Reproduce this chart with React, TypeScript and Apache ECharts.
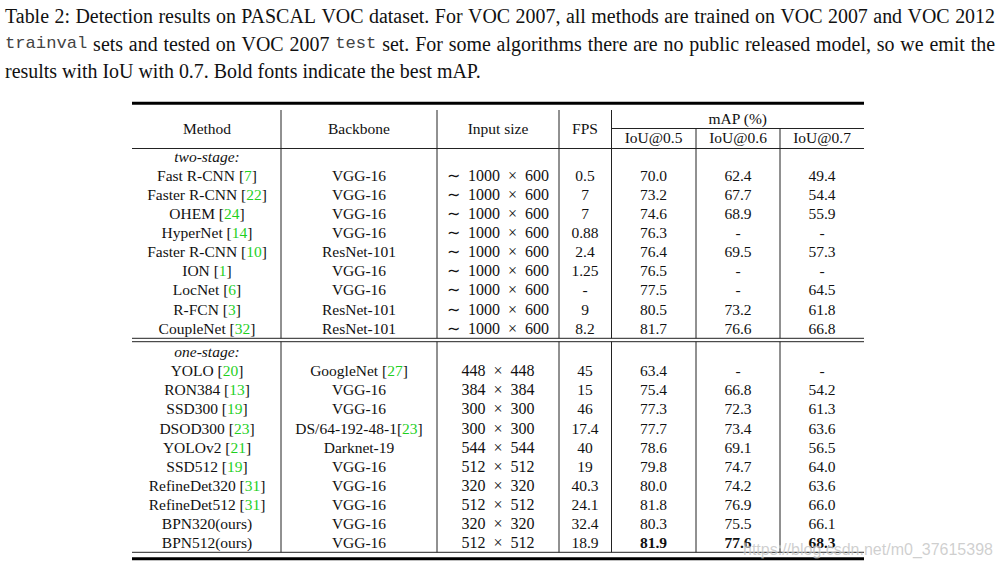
import React, { useEffect, useRef } from "react";
import * as echarts from "echarts";

// ---------- text / data ----------
const captionLine1 =
  "Table 2: Detection results on PASCAL VOC dataset. For VOC 2007, all methods are trained on VOC 2007 and VOC 2012";
const captionLine2: [string, boolean][] = [
  ["trainval", true],
  ["sets and tested on VOC 2007", false],
  ["test", true],
  ["set. For some algorithms there are no public released model, so we emit the", false],
];
const captionLine3 = "results with IoU with 0.7. Bold fonts indicate the best mAP.";

const headers = ["Method", "Backbone", "Input size", "FPS"];
const mapHeader = "mAP (%)";
const iouHeaders = ["IoU@0.5", "IoU@0.6", "IoU@0.7"];
const groupLabels = ["two-stage:", "one-stage:"];

// two-stage
const twoMethods = ["Fast R-CNN", "Faster R-CNN", "OHEM", "HyperNet", "Faster R-CNN", "ION", "LocNet", "R-FCN", "CoupleNet"];
const twoRefs = ["7", "22", "24", "14", "10", "1", "6", "3", "32"];
const twoBackbones = ["VGG-16", "VGG-16", "VGG-16", "VGG-16", "ResNet-101", "VGG-16", "VGG-16", "ResNet-101", "ResNet-101"];
const twoBackboneRefs = ["", "", "", "", "", "", "", "", ""];
const twoInputs = ["∼ 1000 × 600", "∼ 1000 × 600", "∼ 1000 × 600", "∼ 1000 × 600", "∼ 1000 × 600", "∼ 1000 × 600", "∼ 1000 × 600", "∼ 1000 × 600", "∼ 1000 × 600"];
const twoFps: (number | null)[] = [0.5, 7, 7, 0.88, 2.4, 1.25, null, 9, 8.2];
const twoMap05: (number | null)[] = [70.0, 73.2, 74.6, 76.3, 76.4, 76.5, 77.5, 80.5, 81.7];
const twoMap06: (number | null)[] = [62.4, 67.7, 68.9, null, 69.5, null, null, 73.2, 76.6];
const twoMap07: (number | null)[] = [49.4, 54.4, 55.9, null, 57.3, null, 64.5, 61.8, 66.8];

// one-stage
const oneMethods = ["YOLO", "RON384", "SSD300", "DSOD300", "YOLOv2", "SSD512", "RefineDet320", "RefineDet512", "BPN320(ours)", "BPN512(ours)"];
const oneRefs = ["20", "13", "19", "23", "21", "19", "31", "31", "", ""];
const oneBackbones = ["GoogleNet", "VGG-16", "VGG-16", "DS/64-192-48-1", "Darknet-19", "VGG-16", "VGG-16", "VGG-16", "VGG-16", "VGG-16"];
const oneBackboneRefs = ["27", "", "", "23", "", "", "", "", "", ""];
const oneInputs = ["448 × 448", "384 × 384", "300 × 300", "300 × 300", "544 × 544", "512 × 512", "320 × 320", "512 × 512", "320 × 320", "512 × 512"];
const oneFps: (number | null)[] = [45, 15, 46, 17.4, 40, 19, 40.3, 24.1, 32.4, 18.9];
const oneMap05: (number | null)[] = [63.4, 75.4, 77.3, 77.7, 78.6, 79.8, 80.0, 81.8, 80.3, 81.9];
const oneMap06: (number | null)[] = [null, 66.8, 72.3, 73.4, 69.1, 74.7, 74.2, 76.9, 75.5, 77.6];
const oneMap07: (number | null)[] = [null, 54.2, 61.3, 63.6, 56.5, 64.0, 63.6, 66.0, 66.1, 68.3];

const watermark = "https://blog.csdn.net/m0_37615398";

// ---------- layout ----------
const SERIF = '"Liberation Serif", "Times New Roman", serif';
const MONO = '"Liberation Mono", "DejaVu Sans Mono", monospace';
const SANS = '"Liberation Sans", Arial, sans-serif';
const GREEN = "#1fd01f";
const INK = "#111";
const RULE = "#222";

const X_LEFT = 132;
const X_RIGHT = 864;
const COL_BOUNDS = [281, 437, 559, 611.5, 696, 780];
const COL_CENTERS = [207, 359, 498, 585, 653.5, 738, 822];
const ROW_STEP = 19.05;
const GROUP_Y = [156.6, 351.8];
const TABLE_FS = 15.5;

function fmtNum(v: number | null, d?: number) {
  if (v === null || v === undefined) return "-";
  return d === undefined ? String(v) : v.toFixed(d);
}

// math-style spacing around ∼ and ×
function mathSpacing(s: string) {
  return s.replace(/ /g, "\u2002");
}

function refText(name: string, ref: string, sep: string) {
  if (!ref) return `{t|${name}}`;
  return `{t|${name}${sep}[}{g|${ref}}{t|]}`;
}

const richBase = {
  t: { fontSize: TABLE_FS, fontFamily: SERIF, fill: INK },
  g: { fontSize: TABLE_FS, fontFamily: SERIF, fill: GREEN },
};

function txt(x: number, y: number, text: string, opts: any = {}) {
  const align = opts.align || "center";
  return {
    type: "text",
    x,
    y,
    silent: true,
    style: {
      text,
      fontSize: opts.fontSize || TABLE_FS,
      fontFamily: opts.fontFamily || SERIF,
      fontWeight: opts.fontWeight || "normal",
      fontStyle: opts.fontStyle || "normal",
      fill: opts.fill || INK,
      align,
      textAlign: align,
      verticalAlign: "middle",
      textVerticalAlign: "middle",
      rich: opts.rich,
      stroke: opts.stroke,
      lineWidth: opts.lineWidth,
    },
  };
}

function hline(x1: number, x2: number, y: number, w = 1, c = RULE) {
  return { type: "line", silent: true, shape: { x1, y1: y, x2, y2: y }, style: { stroke: c, lineWidth: w } };
}
function vline(x: number, y1: number, y2: number, w = 1, c = RULE) {
  return { type: "line", silent: true, shape: { x1: x, y1, x2: x, y2 }, style: { stroke: c, lineWidth: w } };
}

function buildGraphics() {
  const els: any[] = [];
  const canvas = document.createElement("canvas");
  const ctx = canvas.getContext("2d")!;
  const measure = (t: string, font: string) => {
    ctx.font = font;
    return ctx.measureText(t).width;
  };

  // ---- caption ----
  const capLeft = 5;
  const capRight = 995;
  const base = measure(captionLine3, `100px ${SERIF}`);
  const capFs = Math.max(16, Math.min(21, (100 * (481 - capLeft)) / base));
  const monoFs = capFs * 0.86;
  const serifFont = `${capFs}px ${SERIF}`;
  const monoFont = `${monoFs}px ${MONO}`;
  const capY = [16, 43.5, 70.5];

  const justify = (tokens: { w: string; mono: boolean }[], y: number) => {
    const widths = tokens.map((t) => measure(t.w, t.mono ? monoFont : serifFont));
    const total = widths.reduce((a, b) => a + b, 0);
    const gap = (capRight - capLeft - total) / (tokens.length - 1);
    let x = capLeft;
    tokens.forEach((t, i) => {
      els.push(
        txt(x, y, t.w, {
          align: "left",
          fontSize: t.mono ? monoFs : capFs,
          fontFamily: t.mono ? MONO : SERIF,
          fill: t.mono ? "#444" : INK,
        })
      );
      x += widths[i] + gap;
    });
  };
  justify(captionLine1.split(" ").map((w) => ({ w, mono: false })), capY[0]);
  const l2: { w: string; mono: boolean }[] = [];
  captionLine2.forEach(([s, mono]) => s.split(" ").forEach((w) => l2.push({ w, mono })));
  justify(l2, capY[1]);
  els.push(txt(capLeft, capY[2], captionLine3, { align: "left", fontSize: capFs }));

  // ---- rules ----
  const topY = 103.3;
  const subY = 128.5;
  const headBottom = 148.5;
  const dbl1 = 338.3;
  const dbl2 = 341.7;
  const botThin = 552.3;
  const botThick = 558.7;
  els.push(hline(X_LEFT, X_RIGHT, topY, 3, "#000"));
  els.push(hline(COL_BOUNDS[3], X_RIGHT, subY));
  els.push(hline(X_LEFT, X_RIGHT, headBottom));
  els.push(hline(X_LEFT, X_RIGHT, dbl1));
  els.push(hline(X_LEFT, X_RIGHT, dbl2));
  els.push(hline(X_LEFT, X_RIGHT, botThin));
  els.push(hline(X_LEFT, X_RIGHT, botThick, 3, "#000"));
  COL_BOUNDS.forEach((x, i) => {
    const start = i >= 4 ? subY : 110;
    els.push(vline(x, start, dbl1));
    els.push(vline(x, dbl2, botThin));
  });

  // ---- header ----
  const headY = 128;
  headers.forEach((h, i) => els.push(txt(COL_CENTERS[i], headY, h)));
  els.push(txt((COL_BOUNDS[3] + X_RIGHT) / 2, 118.3, mapHeader));
  iouHeaders.forEach((h, i) => els.push(txt(COL_CENTERS[4 + i], 137.8, h)));

  // ---- body ----
  const allMaps = [
    [...twoMap05, ...oneMap05],
    [...twoMap06, ...oneMap06],
    [...twoMap07, ...oneMap07],
  ];
  const best = allMaps.map((col) => Math.max(...(col.filter((v) => v !== null) as number[])));

  const groups = [
    { methods: twoMethods, refs: twoRefs, bbs: twoBackbones, bbRefs: twoBackboneRefs, inputs: twoInputs, fps: twoFps, m: [twoMap05, twoMap06, twoMap07] },
    { methods: oneMethods, refs: oneRefs, bbs: oneBackbones, bbRefs: oneBackboneRefs, inputs: oneInputs, fps: oneFps, m: [oneMap05, oneMap06, oneMap07] },
  ];
  groups.forEach((g, gi) => {
    els.push(txt(COL_CENTERS[0], GROUP_Y[gi], groupLabels[gi], { fontStyle: "italic" }));
    g.methods.forEach((name, i) => {
      const y = GROUP_Y[gi] + (i + 1) * ROW_STEP;
      els.push(txt(COL_CENTERS[0], y, refText(name, g.refs[i], " "), { rich: richBase }));
      const bbSep = g.bbs[i].startsWith("DS/") ? "" : " ";
      els.push(txt(COL_CENTERS[1], y, refText(g.bbs[i], g.bbRefs[i], bbSep), { rich: richBase }));
      els.push(txt(COL_CENTERS[2], y, mathSpacing(g.inputs[i]), { fontSize: 16 }));
      els.push(txt(COL_CENTERS[3], y, fmtNum(g.fps[i])));
      g.m.forEach((col, k) => {
        const v = col[i];
        const bold = v !== null && v === best[k];
        els.push(txt(COL_CENTERS[4 + k], y, fmtNum(v, 1), { fontWeight: bold ? "bold" : "normal" }));
      });
    });
  });

  // ---- watermark (overlays the table as in the reference) ----
  els.push(
    txt(743, 549.5, watermark, {
      align: "left",
      fontSize: 16,
      fontFamily: SANS,
      fill: "rgba(175,175,175,0.6)",
      stroke: "rgba(255,255,255,0.5)",
      lineWidth: 1,
    })
  );
  return els;
}

export default function App() {
  const ref = useRef<HTMLDivElement>(null);
  useEffect(() => {
    document.body.style.margin = "0";
    const chart = echarts.init(ref.current!, undefined, { renderer: "svg" });
    chart.setOption({
      animation: false,
      backgroundColor: "#ffffff",
      graphic: { elements: buildGraphics() },
    });
    return () => chart.dispose();
  }, []);
  return <div ref={ref} style={{ width: 1000, height: 568 }} />;
}
